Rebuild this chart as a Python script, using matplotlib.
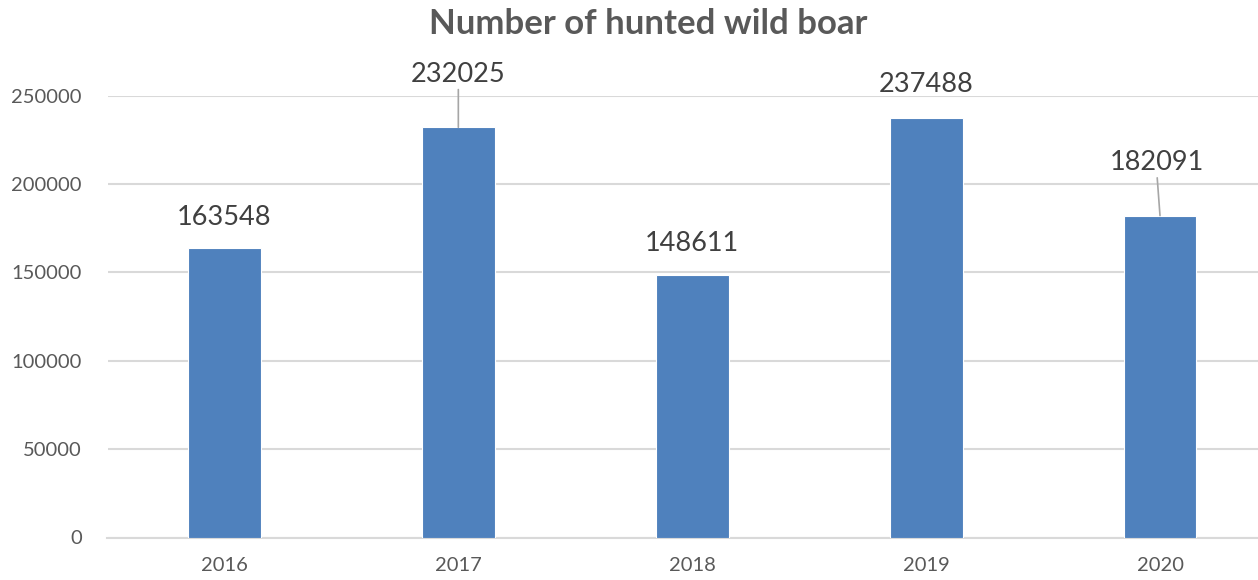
import matplotlib.pyplot as plt

plt.rcParams['font.family'] = ['Lato', 'DejaVu Sans']

years = ['2016', '2017', '2018', '2019', '2020']
boars = [163548, 232025, 148611, 237488, 182091]
y_ticks = [0, 50000, 100000, 150000, 200000, 250000]

# label offsets in pixels (dx, dy) from the bar top, some have leader lines
label_offsets = [(0, 31), (0, 53), (0, 31), (0, 33), (-3, 53)]
leader = [False, True, False, False, True]

fig = plt.figure(figsize=(12.58, 5.8), dpi=100)
ax = fig.add_axes([107.5 / 1258, 42.5 / 580, 1150.5 / 1258, 442 / 580])

x = range(len(years))
bars = ax.bar(x, boars, width=0.312, color='#4f81bd', edgecolor='white',
              linewidth=0.8, zorder=3)

ax.set_xlim(-0.5, 4.419)
ax.set_ylim(0, 250000)
ax.set_yticks(y_ticks)
ax.set_yticklabels([str(v) for v in y_ticks])
ax.set_xticks(list(x))
ax.set_xticklabels(years)
ax.tick_params(axis='both', length=0, labelsize=14.5, labelcolor='#595959')
ax.tick_params(axis='y', pad=18.5)
ax.tick_params(axis='x', pad=14)
ax.grid(axis='y', color='#d9d9d9', linewidth=1.5, zorder=0)
for side in ['top', 'right', 'left']:
    ax.spines[side].set_visible(False)
ax.spines['bottom'].set_color('#d9d9d9')
ax.spines['bottom'].set_linewidth(1.5)

for i, v in enumerate(boars):
    dx, dy = label_offsets[i]
    props = None
    if leader[i]:
        props = dict(arrowstyle='-', color='#a6a6a6', lw=1.2,
                     shrinkA=0, shrinkB=0, relpos=(0.5, 0.0))
    ax.annotate(str(v), xy=(i, v), xytext=(dx, dy), textcoords='offset pixels',
                ha='center', va='center', fontsize=19.5, color='#404040',
                annotation_clip=False, arrowprops=props)

fig.text(648 / 1258, 1 - 24 / 580, 'Number of hunted wild boar', ha='center',
         va='center', fontsize=25, fontweight='bold', color='#595959')

fig.savefig('out.png', dpi=100)
